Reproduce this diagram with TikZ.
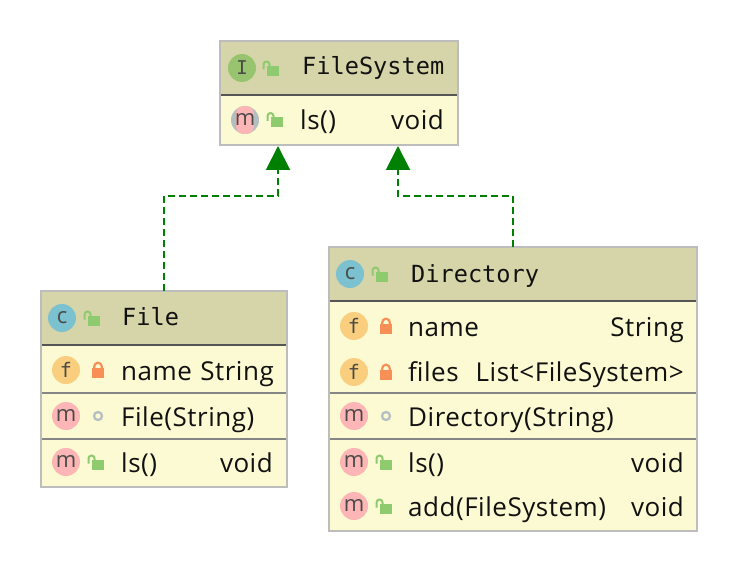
\documentclass[tikz,border=0pt]{standalone}
\usepackage{fontspec}
\setmainfont[LetterSpace=2]{Open Sans}
\newfontfamily\monof{DejaVu Sans Mono}
\newfontfamily\badgef{Open Sans}
\usetikzlibrary{arrows.meta}
\definecolor{hdr}{HTML}{D6D5A9}
\definecolor{bod}{HTML}{FCFAD2}
\definecolor{bor}{HTML}{BDBDBD}
\definecolor{div1}{HTML}{555555}
\definecolor{div2}{HTML}{858585}
\definecolor{grn}{HTML}{008000}
\definecolor{cI}{HTML}{98C470}
\definecolor{cC}{HTML}{7BC1CF}
\definecolor{cF}{HTML}{F9CE7E}
\definecolor{cM}{HTML}{FDB5B5}
\definecolor{lockg}{HTML}{8DCB6E}
\definecolor{locko}{HTML}{F78F56}
\definecolor{dotc}{HTML}{B3BEC2}
\definecolor{txtc}{HTML}{111111}
\definecolor{letc}{HTML}{4A4A48}
\tikzset{
  x=1pt,y=-1pt,
  umlbox/.style={draw=bor,line width=2pt,fill=bod,inner sep=0pt,outer sep=0pt},
  divhdr/.style={draw=div1,line width=2pt},
  divrow/.style={draw=div2,line width=2pt},
  realize/.style={draw=grn,line width=2pt,dash pattern=on 7pt off 4pt,-{Triangle[length=24pt,width=24pt,color=grn]}},
  badge/.style={circle,minimum size=28pt,inner sep=0pt,font=\badgef\fontsize{22}{22}\selectfont,text=letc},
  badgemono/.style={badge,font=\monof\fontsize{20}{20}\selectfont},
  title/.style={anchor=base west,inner sep=0pt,font=\monof\fontsize{23.6}{24}\selectfont,text=txtc},
  lab/.style={anchor=base west,inner sep=0pt,font=\fontsize{26}{26}\selectfont,text=txtc},
  labr/.style={anchor=base east,inner sep=0pt,font=\fontsize{26}{26}\selectfont,text=txtc},
  openlock/.pic={
    \fill[lockg] (-6,-5) rectangle (6,5);
    \draw[lockg,line width=2pt] (-9.5,-1.5) -- (-9.5,-6.5) arc[start angle=180,end angle=360,radius=3] -- (-3.5,-4.5);
  },
  closedlock/.pic={
    \fill[locko] (-6,-5) rectangle (6,5);
    \draw[locko,line width=2.2pt] (-3.8,-4) -- (-3.8,-6.5) arc[start angle=180,end angle=360,radius=3.8] -- (3.8,-4);
  },
  dotvis/.style={draw=dotc,line width=2.2pt,circle,minimum size=8pt,inner sep=0pt}
}
\begin{document}
\begin{tikzpicture}
\useasboundingbox (0,0) rectangle (738,572);
% boxes
\node[umlbox,minimum width=238pt,minimum height=104pt] (fs) at (339,93) {};
\node[umlbox,minimum width=246pt,minimum height=196pt] (file) at (164,389) {};
\node[umlbox,minimum width=368pt,minimum height=284pt] (dir) at (513,389) {};
% headers
\fill[hdr] (221,42) rectangle (457,95);
\fill[hdr] (42,292) rectangle (286,345);
\fill[hdr] (330,248) rectangle (696,301);
\draw[divhdr] (221,95) -- (457,95);
\draw[divhdr] (42,345) -- (286,345);
\draw[divrow] (42,393) -- (286,393);
\draw[divrow] (42,439) -- (286,439);
\draw[divhdr] (330,301) -- (696,301);
\draw[divrow] (330,393) -- (696,393);
\draw[divrow] (330,439) -- (696,439);
% connectors
\coordinate (fsa) at (278,146);
\coordinate (fsb) at (398,146);
\coordinate (ba) at (278,196);
\coordinate (bb) at (398,196);
\draw[realize] (file.north) |- (ba) -- (fsa);
\draw[realize] (dir.north) |- (bb) -- (fsb);
% FileSystem
\node[badgemono,fill=cI,font=\monof\fontsize{19}{19}\selectfont] (fsI) at (242,68) {I};
\pic at (273,71) {openlock};
\node[title] (fsT) at (302,75) {FileSystem};
\fill[dotc] (245,120) circle (14);
\fill[cM,rounded corners=8pt] (236,106) rectangle (254,134);
\node[badge] (fsM) at (245,120) {m};
\pic at (277,122.5) {openlock};
\node[lab] (fsL) at (300,130) {ls()};
\node[labr] (fsV) at (444,130) {void};
% File
\node[badge,fill=cC] (fC) at (62,318) {c};
\pic at (94,321) {openlock};
\node[title] (fT) at (122,325) {File};
\node[badgemono,fill=cF] (ff) at (66,370) {f};
\pic at (98,373) {closedlock};
\node[lab] (fn) at (121,380) {name};
\node[labr] (fs1) at (274,380) {String};
\node[badge,fill=cM] (fm1) at (66,416) {m};
\node[dotvis] (fd) at (98,416) {};
\node[lab] (fc) at (121,426) {File(String)};
\node[badge,fill=cM] (fm2) at (66,462) {m};
\pic at (98,465) {openlock};
\node[lab] (fl) at (121,472) {ls()};
\node[labr] (fv) at (273,472) {void};
% Directory
\node[badge,fill=cC] (dC) at (350,274) {c};
\pic at (382,277) {openlock};
\node[title] (dT) at (411,282) {Directory};
\node[badgemono,fill=cF] (df1) at (354,326) {f};
\pic at (386,329) {closedlock};
\node[lab] (dn) at (408,336) {name};
\node[labr] (ds) at (684,336) {String};
\node[badgemono,fill=cF] (df2) at (354,372) {f};
\pic at (386,375) {closedlock};
\node[lab] (dfl) at (408,381) {files};
\node[labr] (dlist) at (684,381) {List<FileSystem>};
\node[badge,fill=cM] (dm1) at (354,416) {m};
\node[dotvis] (dd) at (386,416) {};
\node[lab] (dc) at (408,426) {Directory(String)};
\node[badge,fill=cM] (dm2) at (354,462) {m};
\pic at (386,465) {openlock};
\node[lab] (dl) at (408,472) {ls()};
\node[labr] (dv1) at (684,472) {void};
\node[badge,fill=cM] (dm3) at (354,506) {m};
\pic at (386,509) {openlock};
\node[lab] (da) at (408,516) {add(FileSystem)};
\node[labr] (dv2) at (684,516) {void};
\end{tikzpicture}
\end{document}
